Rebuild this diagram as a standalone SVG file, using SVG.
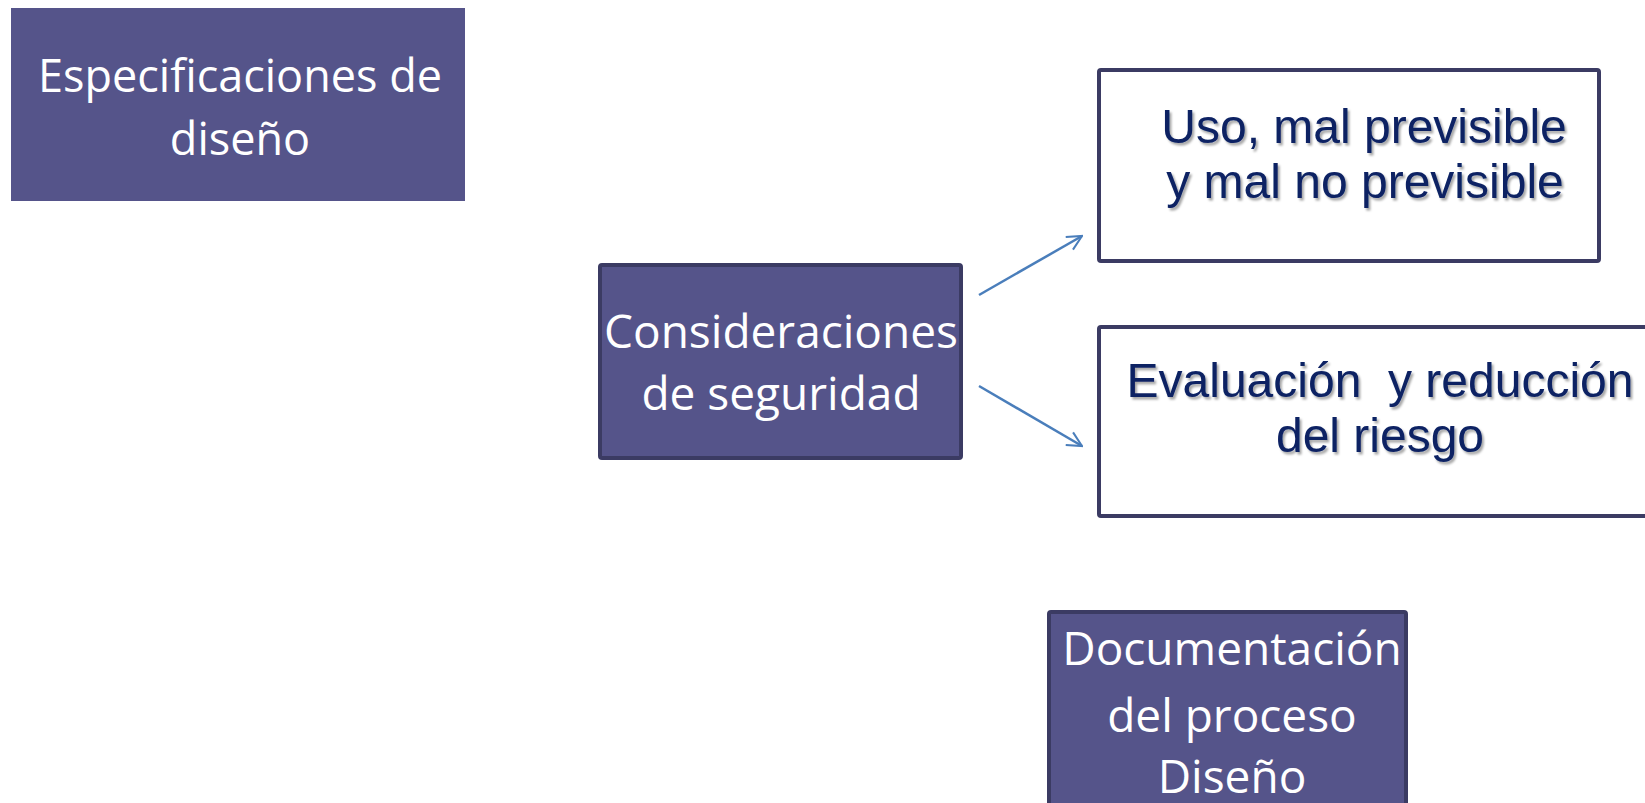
<svg xmlns="http://www.w3.org/2000/svg" width="1645" height="803" viewBox="0 0 1645 803">
<style>
.pbox{fill:#55548A;}
.pstroke{stroke:#3B3B63;stroke-width:4;}
.wbox{fill:#FFFFFF;stroke:#3B3B63;stroke-width:4;}
.wt{font-family:"Open Sans","Noto Sans",sans-serif;font-size:46px;fill:#FFFFFF;text-anchor:middle;}
.nt{font-family:"Liberation Sans",Arial,sans-serif;font-size:48px;fill:#0A2163;filter:url(#sh);text-anchor:middle;}
.conn{stroke:#4A7EBB;stroke-width:2.5;fill:none;marker-end:url(#ah);}
</style>
<defs>
<filter id="sh" x="-10%" y="-20%" width="120%" height="150%">
<feDropShadow dx="2" dy="2.5" stdDeviation="1.2" flood-color="#000000" flood-opacity="0.35"/>
</filter>
<marker id="ah" viewBox="0 0 12 12" refX="11" refY="6" markerWidth="7" markerHeight="7" markerUnits="strokeWidth" orient="auto">
<path d="M1,1 L11,6 L1,11" fill="none" stroke="#4A7EBB" stroke-width="1.4"/>
</marker>
</defs>
<rect width="1645" height="803" fill="#FFFFFF"/>
<g id="especificaciones">
<rect class="pbox" x="11" y="8" width="454" height="193"/>
<text class="wt" x="240" y="92" style="font-size:45px">Especificaciones de</text>
<text class="wt" x="240" y="155" style="font-size:45px">diseño</text>
</g>
<g id="consideraciones">
<rect class="pbox pstroke" x="600" y="265" width="361" height="193" rx="2"/>
<text class="wt" x="781" y="348">Consideraciones</text>
<text class="wt" x="781" y="410">de seguridad</text>
</g>
<g id="uso">
<rect class="wbox" x="1099" y="70" width="500" height="191" rx="2"/>
<text class="nt" x="1364" y="143">Uso, mal previsible</text>
<text class="nt" x="1365" y="198">y mal no previsible</text>
</g>
<g id="evaluacion">
<rect class="wbox" x="1099" y="327" width="560" height="189" rx="2"/>
<text class="nt" x="1380" y="397" xml:space="preserve">Evaluación  y reducción</text>
<text class="nt" x="1380" y="452">del riesgo</text>
</g>
<g id="documentacion">
<rect class="pbox pstroke" x="1049" y="612" width="357" height="200" rx="2"/>
<text class="wt" x="1232" y="665">Documentación</text>
<text class="wt" x="1232" y="732">del proceso</text>
<text class="wt" x="1232" y="793">Diseño</text>
</g>
<g id="connectors">
<line class="conn" x1="979" y1="295" x2="1082" y2="236"/>
<line class="conn" x1="979" y1="386" x2="1082" y2="446"/>
</g>
</svg>
